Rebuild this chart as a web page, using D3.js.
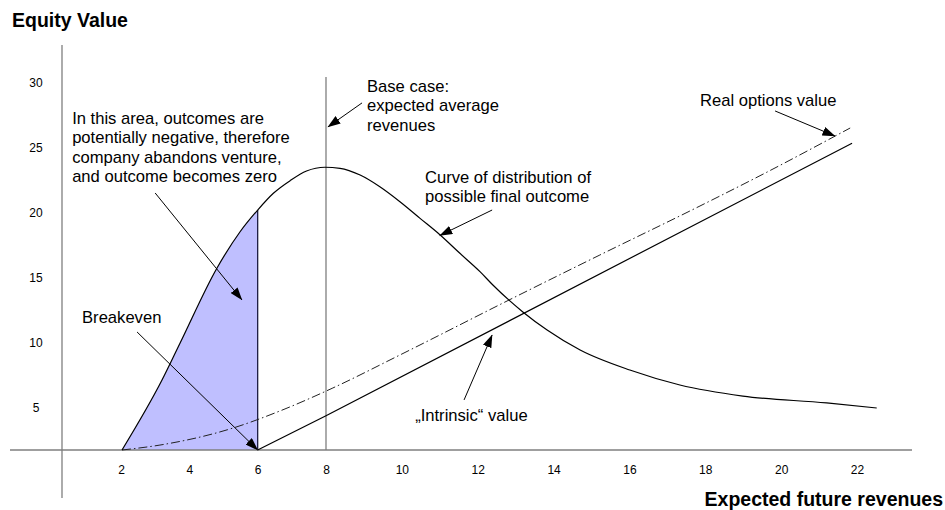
<!DOCTYPE html>
<html>
<head>
<meta charset="utf-8">
<script src="https://d3js.org/d3.v7.min.js"></script>
<style>
  body { margin: 0; background: #fff; }
  text { font-family: "Liberation Sans", Arial, sans-serif; fill: #000; }
  .axis-line { stroke: #7f7f7f; stroke-width: 1.3; }
  .note { font-size: 16.6px; }
  .title { font-size: 19.5px; font-weight: bold; }
</style>
</head>
<body>
<svg id="chart" width="945" height="510"></svg>
<script>
// tick labels
var xTicks = [2, 4, 6, 8, 10, 12, 14, 16, 18, 20, 22];
var yTicks = [5, 10, 15, 20, 25, 30];

// curve of distribution of possible final outcome
var distX = [2.03, 3.2, 3.73, 4.81, 5.48, 6.0, 6.46, 6.95, 7.43, 7.97, 8.37, 8.9, 9.42, 9.95, 10.48, 11.01, 11.53, 12.06, 12.4, 13.19, 13.83, 14.7, 16.01, 17.33, 18.99, 21.2, 22.52];
var distY = [0, 5.38, 8.23, 14.0, 16.77, 18.46, 19.75, 20.72, 21.46, 21.75, 21.67, 21.15, 20.25, 19.1, 17.82, 16.54, 15.13, 13.72, 12.69, 10.62, 9.23, 7.69, 6.15, 5.0, 4.15, 3.62, 3.23];

// real options value (dash-dot)
var optX = [2.03, 3.14, 5.28, 6.65, 8.18, 9.95, 12.93, 15.22, 17.86, 19.63, 21.82];
var optY = [0, 0.38, 1.69, 3.0, 4.77, 7.31, 11.69, 15.0, 18.77, 21.38, 24.77];

// "intrinsic" value
var intrX = [6, 8, 21.87];
var intrY = [0, 2.63, 23.6];

var breakeven = 6;
var baseCase = 8;
var baseCaseTop = 28.7;

// annotations
var noteText = [
  ["In this area, outcomes are", "potentially negative, therefore", "company abandons venture,", "and outcome becomes zero"],
  ["Breakeven"],
  ["Base case:", "expected average", "revenues"],
  ["Curve of distribution of", "possible final outcome"],
  ["Real options value"],
  ["\u201EIntrinsic\u201C value"]
];
var noteX = [0.57, 0.86, 9.08, 10.61, 17.86, 10.35];
var noteY = [25.08, 9.77, 27.54, 20.56, 26.46, 2.23];
var arrowFrom = [[3.0, 19.77], [2.47, 9.08], [8.95, 26.7], [12.38, 18.46], [19.84, 26.08], [11.64, 3.85]];
var arrowTo = [[5.54, 11.54], [6, 0], [8.05, 24.85], [11.0, 16.5], [21.42, 24.15], [12.38, 8.85]];

var svg = d3.select("#chart");

// the drawing's x axis is not evenly spaced, so the scale bends at 8
var x = d3.scaleLinear().domain([2, 8, 22]).range([121, 326, 857]);
var y = d3.scaleLinear().domain([0, 30]).range([450, 60]);

var leading = [19.5, 19.5, 19.5, 19, 19.5, 19.5];

function pts(xs, ys) {
  return xs.map(function(d, i) { return [d, ys[i]]; });
}

var defs = svg.append("defs");
defs.append("marker")
  .attr("id", "head")
  .attr("viewBox", "0 0 13 9")
  .attr("refX", 12.5)
  .attr("refY", 4.5)
  .attr("markerWidth", 13)
  .attr("markerHeight", 9)
  .attr("markerUnits", "userSpaceOnUse")
  .attr("orient", "auto")
  .append("path")
  .attr("d", "M0,0L13,4.5L0,9Z")
  .attr("fill", "#000");

// shaded area: outcomes below breakeven
var dist = pts(distX, distY);
var shaded = dist.filter(function(d) { return d[0] <= breakeven; });
svg.append("path")
  .datum(shaded)
  .attr("fill", "#bfbfff")
  .attr("d", d3.area()
    .x(function(d) { return x(d[0]); })
    .y0(y(0))
    .y1(function(d) { return y(d[1]); })
    .curve(d3.curveMonotoneX));

svg.append("line")
  .attr("x1", x(breakeven)).attr("x2", x(breakeven))
  .attr("y1", y(0)).attr("y2", y(shaded[shaded.length - 1][1]))
  .attr("stroke", "#1c1c44")
  .attr("stroke-width", 1.3);

// axes
svg.append("line").attr("class", "axis-line")
  .attr("x1", 10).attr("x2", 912).attr("y1", y(0)).attr("y2", y(0));
svg.append("line").attr("class", "axis-line")
  .attr("x1", 62).attr("x2", 62).attr("y1", 45).attr("y2", 498);

var gx = svg.append("g")
  .attr("transform", "translate(0," + y(0) + ")")
  .call(d3.axisBottom(x).tickValues(xTicks).tickSize(0));
gx.select(".domain").remove();
gx.attr("font-family", null).attr("font-size", 12);
gx.selectAll("text").attr("y", 24).attr("dy", null);

var gy = svg.append("g")
  .attr("transform", "translate(62,0)")
  .call(d3.axisLeft(y).tickValues(yTicks).tickSize(0));
gy.select(".domain").remove();
gy.attr("font-family", null).attr("font-size", 12);
gy.selectAll("text").attr("x", -26).attr("y", 26).attr("dy", null).attr("text-anchor", "middle");

// base case line
svg.append("line").attr("class", "axis-line")
  .attr("x1", x(baseCase)).attr("x2", x(baseCase))
  .attr("y1", y(0)).attr("y2", y(baseCaseTop));

var line = d3.line()
  .x(function(d) { return x(d[0]); })
  .y(function(d) { return y(d[1]); });

svg.append("path")
  .datum(pts(optX, optY))
  .attr("fill", "none")
  .attr("stroke", "#222")
  .attr("stroke-width", 1)
  .attr("stroke-dasharray", "9,3,1.5,3")
  .attr("d", line.curve(d3.curveMonotoneX));

svg.append("path")
  .datum(pts(intrX, intrY))
  .attr("fill", "none")
  .attr("stroke", "#000")
  .attr("stroke-width", 1.2)
  .attr("d", line.curve(d3.curveLinear));

svg.append("path")
  .datum(dist)
  .attr("fill", "none")
  .attr("stroke", "#000")
  .attr("stroke-width", 1.2)
  .attr("d", line.curve(d3.curveMonotoneX));

// annotation arrows
svg.selectAll(".arrow")
  .data(arrowFrom)
  .enter().append("line")
  .attr("class", "arrow")
  .attr("x1", function(d) { return x(d[0]); })
  .attr("y1", function(d) { return y(d[1]); })
  .attr("x2", function(d, i) { return x(arrowTo[i][0]); })
  .attr("y2", function(d, i) { return y(arrowTo[i][1]); })
  .attr("stroke", "#000")
  .attr("stroke-width", 1)
  .attr("marker-end", "url(#head)");

// annotation text
noteText.forEach(function(lines, i) {
  var t = svg.append("text")
    .attr("class", "note")
    .attr("x", x(noteX[i]))
    .attr("y", y(noteY[i]));
  lines.forEach(function(s, j) {
    t.append("tspan")
      .attr("x", x(noteX[i]))
      .attr("dy", j == 0 ? 0 : leading[i])
      .text(s);
  });
});

// axis titles
svg.append("text").attr("class", "title")
  .attr("x", 12).attr("y", 26.5)
  .text("Equity Value");
svg.append("text").attr("class", "title")
  .attr("x", 943).attr("y", 506)
  .attr("text-anchor", "end")
  .text("Expected future revenues");
</script>
</body>
</html>
